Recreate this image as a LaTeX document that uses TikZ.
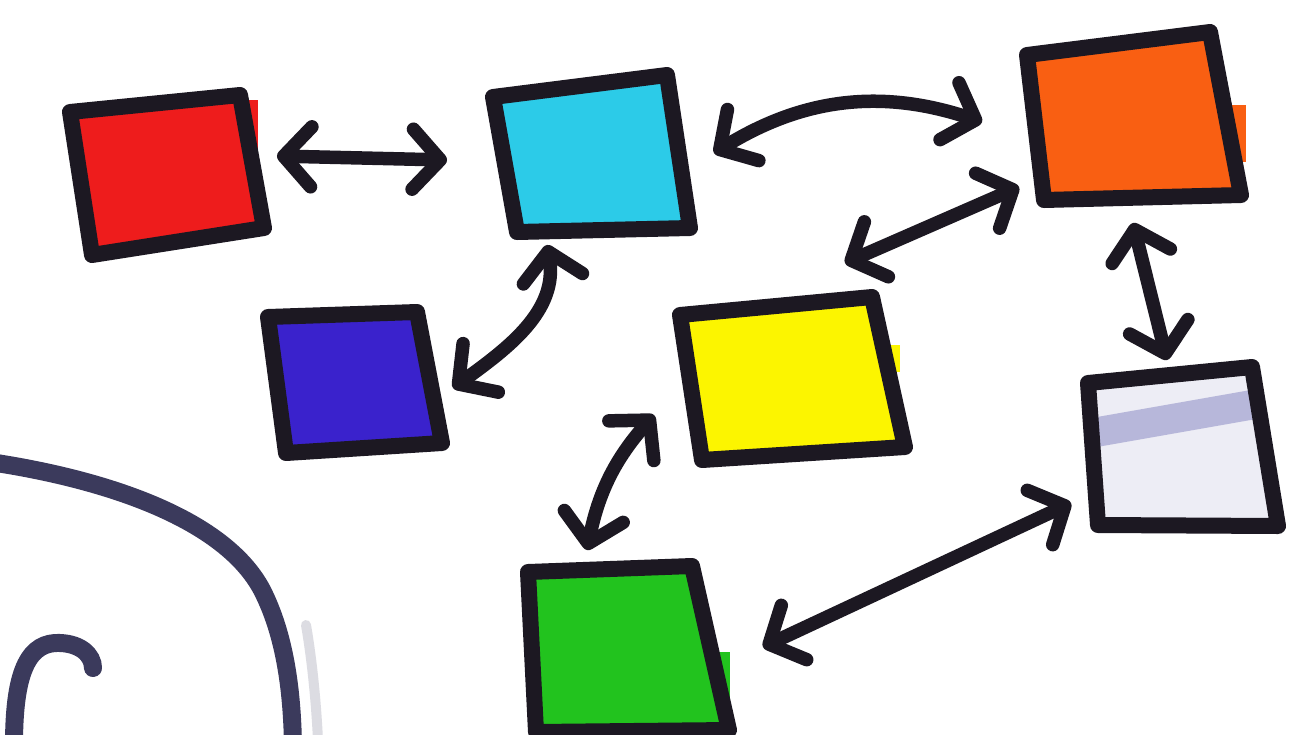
\documentclass[tikz,border=0pt]{standalone}
\usetikzlibrary{arrows.meta}
\definecolor{ink}{HTML}{1C1822}
\definecolor{navy}{HTML}{3B3A5C}
\definecolor{cred}{HTML}{EE1C1C}
\definecolor{ccyan}{HTML}{2CCBE8}
\definecolor{corange}{HTML}{F95F12}
\definecolor{cblue}{HTML}{3A22CC}
\definecolor{cyellow}{HTML}{FCF500}
\definecolor{cgrey}{HTML}{EDEDF5}
\definecolor{streak}{HTML}{8C8CC4}
\definecolor{cgreen}{HTML}{22C31E}
\definecolor{shadowgrey}{HTML}{DCDCE2}
\tikzset{mybarb/.tip={Straight Barb[round,length=5.5mm,width=12mm]}}
\begin{document}
\begin{tikzpicture}[x=0.02cm,y=-0.02cm,
  box/.style={draw=ink, line width=0.32cm, line join=round, line cap=round},
  arr/.style={draw=ink, line width=0.27cm, line cap=round, mybarb-mybarb},
  curveline/.style={draw=navy, line width=0.36cm, line cap=round}]
\fill[white] (0,0) rectangle (1314,734);
\useasboundingbox (0,0) rectangle (1314,734);

% fill overshoots
\fill[cred] (238,100) rectangle (258,158);
\fill[corange] (1222,105) rectangle (1246,162);
\fill[cyellow] (884,345) rectangle (900,372);
\fill[cgreen] (712,652) rectangle (730,700);

% squares
\draw[box, fill=cred] (70,112) -- (240,95) -- (264,228) -- (92,255) -- cycle;
\draw[box, fill=ccyan] (493,97) -- (667,75) -- (690,228) -- (517,232) -- cycle;
\draw[box, fill=corange] (1027,55) -- (1210,32) -- (1241,195) -- (1044,200) -- cycle;
\draw[box, fill=cblue] (268,317) -- (417,312) -- (442,443) -- (286,453) -- cycle;
\draw[box, fill=cyellow] (680,315) -- (872,297) -- (905,447) -- (702,460) -- cycle;
\fill[cgrey] (1088,383) -- (1252,367) -- (1278,526) -- (1098,525) -- cycle;
\begin{scope}
  \clip (1088,383) -- (1252,367) -- (1278,526) -- (1098,525) -- cycle;
  \fill[streak, opacity=0.55] (1080,420) -- (1262,388) -- (1262,418) -- (1080,450) -- cycle;
\end{scope}
\draw[box] (1088,383) -- (1252,367) -- (1278,526) -- (1098,525) -- cycle;
\draw[box, fill=cgreen] (528,572) -- (692,566) -- (729,730) -- (536,732) -- cycle;

% named centres
\coordinate (red) at (166,172);
\coordinate (cyan) at (592,158);
\coordinate (orange) at (1130,120);
\coordinate (blue) at (353,381);
\coordinate (yellow) at (790,380);
\coordinate (grey) at (1179,450);
\coordinate (green) at (621,650);

% connectors
\draw[arr] ([shift={(111,-16)}]red) -- ([shift={(-145,2)}]cyan);
\draw[arr] ([shift={(122,-5)}]cyan) to[bend left=25] ([shift={(-148,2)}]orange);
\draw[arr] ([shift={(-45,87)}]cyan) to[out=-80,in=36] ([shift={(100,7)}]blue);
\draw[arr] ([shift={(-111,67)}]orange) -- ([shift={(55,-117)}]yellow);
\draw[arr] ([shift={(3,103)}]orange) -- ([shift={(-12,-90)}]grey);
\draw[arr] ([shift={(-136,35)}]yellow) to[bend right=15] ([shift={(-34,-100)}]green);
\draw[arr] ([shift={(-108,53)}]grey) -- ([shift={(142,-3)}]green);

% bottom-left strokes
\draw[shadowgrey, line width=0.2cm, line cap=round] (306,625) .. controls (312,660) and (316,700) .. (318,740);
\draw[curveline] (-10,462) .. controls (110,480) and (225,520) .. (262,590) .. controls (285,635) and (292,690) .. (293,745);
\draw[curveline] (14,745) .. controls (14,680) and (25,645) .. (55,643) .. controls (80,642) and (93,655) .. (93,668);
\end{tikzpicture}
\end{document}
